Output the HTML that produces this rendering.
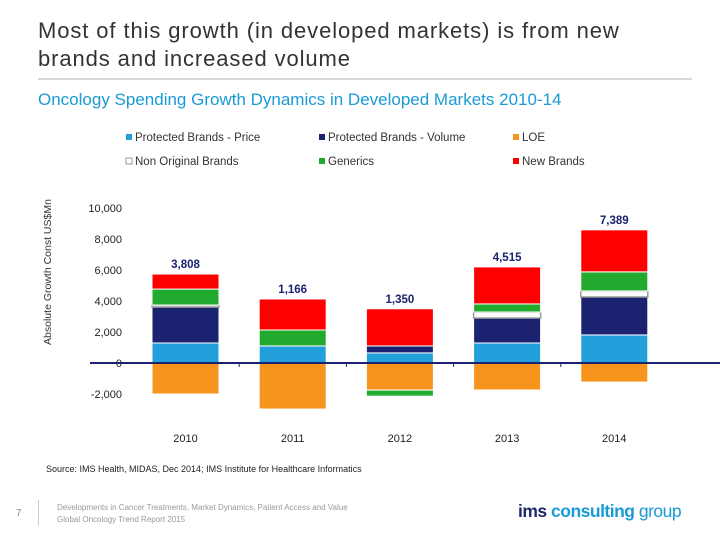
<!DOCTYPE html>
<html><head><meta charset="utf-8"><style>
body{margin:0;width:720px;height:540px;background:#fff;font-family:"Liberation Sans",sans-serif;overflow:hidden;position:relative}
.abs{position:absolute}
</style></head><body>
<div class="abs" style="left:38px;top:17px;font-size:22px;line-height:28px;color:#333;width:640px;letter-spacing:0.9px">Most of this growth (in developed markets) is from new<br>brands and increased volume</div>
<div class="abs" style="left:38px;top:78px;width:654px;height:2px;background:#d8d8d8"></div>
<div class="abs" style="left:38px;top:90px;font-size:17px;color:#1a9ad6">Oncology Spending Growth Dynamics in Developed Markets 2010-14</div>
<svg class="abs" style="left:0;top:0" width="720" height="540" id="chart"></svg>
<div class="abs" style="left:46px;top:464px;font-size:9px;color:#222">Source: IMS Health, MIDAS, Dec 2014; IMS Institute for Healthcare Informatics</div>
<div class="abs" style="left:16px;top:508px;font-size:10px;color:#888">7</div>
<div class="abs" style="left:38px;top:500px;width:1px;height:26px;background:#ccc"></div>
<div class="abs" style="left:57px;top:502px;font-size:8px;line-height:12px;color:#999">Developments in Cancer Treatments, Market Dynamics, Patient Access and Value<br>Global Oncology Trend Report 2015</div>
<div class="abs" style="left:518px;top:501px;font-size:17.5px;font-weight:bold;letter-spacing:-0.5px"><span style="color:#1f2a6b">ims </span><span style="color:#1a9ad6">consulting</span><span style="color:#1a9ad6;font-weight:normal"> group</span></div>
<script>
const years=["2010","2011","2012","2013","2014"];
const price=[1290,1100,650,1290,1810];
const volume=[2320,0,450,1610,2450];
const nonOrig=[130,0,0,390,390];
const generics=[1030,1030,-390,520,1230];
const newBrands=[970,2000,2400,2390,2710];
const loe=[-2000,-2970,-1750,-1740,-1230];
const totals=["3,808","1,166","1,350","4,515","7,389"];
const yTicks=[10000,8000,6000,4000,2000,0,-2000];
const yTickLabels=["10,000","8,000","6,000","4,000","2,000","0","-2,000"];
const NS="http://www.w3.org/2000/svg";
const svg=document.getElementById('chart');
const y0=363,pxPer=0.0155;
function Y(v){return y0-v*pxPer;}
function X(i){return 152+i*107.2;}
const bw=67;
function mk(t,a){const e=document.createElementNS(NS,t);for(const k in a)e.setAttribute(k,a[k]);svg.appendChild(e);return e;}
const leg=[["Protected Brands - Price","#23a0dc",126,138],["Protected Brands - Volume","#1b2370",319,138],["LOE","#f7941d",513,138],["Non Original Brands","#fff",126,162],["Generics","#22aa2e",319,162],["New Brands","#ff0000",513,162]];
leg.forEach(l=>{
 const r=mk('rect',{x:l[2],y:l[3]-4,width:6,height:6,fill:l[1],stroke:l[1]=="#fff"?"#999":"none"});
 
 const t=mk('text',{x:l[2]+9,y:l[3]+3,'font-size':11.5,fill:'#333'});t.textContent=l[0];
 
});
const yl=mk('text',{transform:'translate(51,272) rotate(-90)','text-anchor':'middle','font-size':10.5,fill:'#333'});yl.textContent='Absolute Growth Const US$Mn';

yTicks.forEach((v,i)=>{const t=mk('text',{x:122,y:Y(v)+4,'text-anchor':'end','font-size':11,fill:'#222'});t.textContent=yTickLabels[i];
 });
years.forEach((yr,i)=>{
 const x=X(i);
 let pos=0,neg=0;
 function seg(v,col,name,stroke){
  if(!v)return;
  let a,b;
  if(v>0){a=pos;b=pos+v;pos=b;}else{a=neg;b=neg+v;neg=b;}
  const r=mk('rect',{x:x,y:Math.min(Y(a),Y(b)),width:bw,height:Math.abs(Y(a)-Y(b)),fill:col,stroke:stroke||'#fff','stroke-width':stroke?1.5:1});
  
 }
 seg(price[i],'#23a0dc','bar-price');
 seg(volume[i],'#1b2370','bar-volume');
 seg(loe[i],'#f7941d','bar-loe');
 seg(nonOrig[i],'#fff','bar-non-original','#999');
 seg(generics[i],'#22aa2e','bar-generics');
 seg(newBrands[i],'#ff0000','bar-new-brands');
 const lbl=mk('text',{x:x+bw/2,y:Y(pos)-6,'text-anchor':'middle','font-size':11.5,'font-weight':'bold',fill:'#1b2370'});lbl.textContent=totals[i];
 
 const xl=mk('text',{x:x+bw/2,y:442,'text-anchor':'middle','font-size':11,fill:'#222'});xl.textContent=yr;
 
 if(i>0){const tk=mk('line',{x1:x-20,x2:x-20,y1:y0,y2:y0+4,stroke:'#1b2370','stroke-width':1});}
});
const ax=mk('line',{x1:90,x2:720,y1:y0,y2:y0,stroke:'#1b2370','stroke-width':2});

</script>
</body></html>
